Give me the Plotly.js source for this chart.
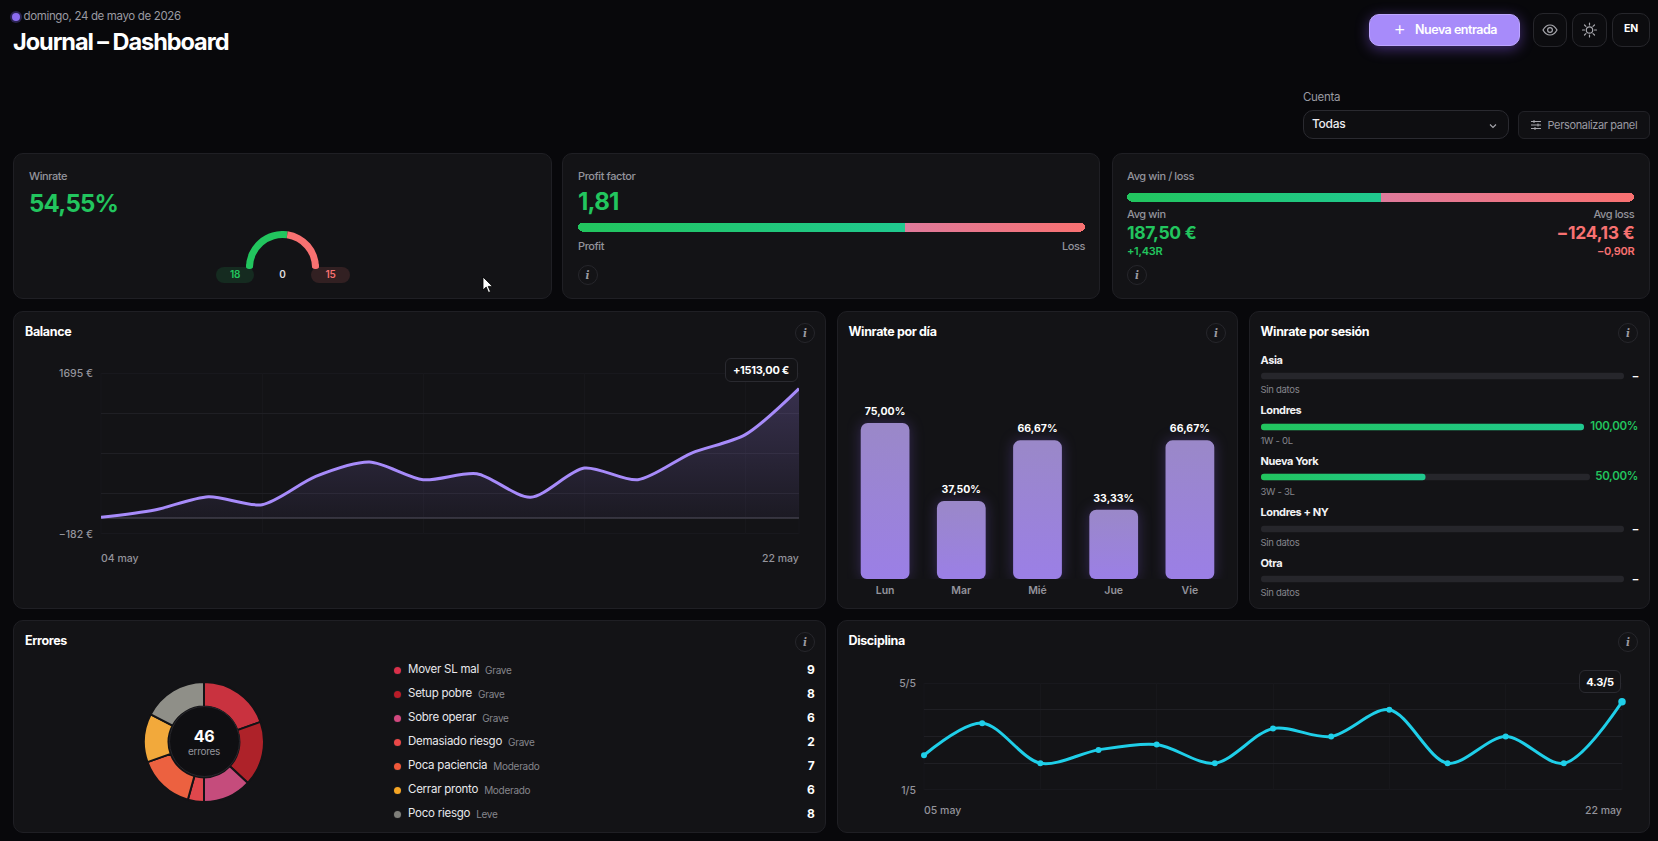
<!DOCTYPE html>
<html lang="es"><head><meta charset="utf-8"><title>Journal – Dashboard</title>
<script src="https://cdn.plot.ly/plotly-3.0.1.min.js"></script>
<style>
html,body{margin:0;padding:0;width:1658px;height:841px;overflow:hidden;background:#08080b;font-family:Inter,"Noto Sans",sans-serif;}
.a{position:absolute;}
.t{position:absolute;transform:translateY(-50%);white-space:nowrap;line-height:1;letter-spacing:-.3px;}
.r{transform:translate(-100%,-50%);}
.c{transform:translate(-50%,-50%);}
.card{position:absolute;box-sizing:border-box;background:#131316;border:1px solid #1f1f24;border-radius:10px;}
.ibtn{position:absolute;box-sizing:border-box;background:#0c0c0f;border:1px solid #26262b;border-radius:10px;}
.info{position:absolute;box-sizing:border-box;width:20px;height:20px;border:1px solid #26262b;border-radius:50%;transform:translate(-50%,-50%);color:#9a9aa0;font:italic 700 10.5px "DejaVu Serif",serif;display:flex;align-items:center;justify-content:center;}
.badge{position:absolute;box-sizing:border-box;background:#131316;border:1px solid #2a2a30;border-radius:6px;color:#fff;font-weight:700;font-size:11px;letter-spacing:-.3px;display:flex;align-items:center;justify-content:center;}
.plot{position:absolute;}
</style></head><body>
<div id="root"></div>
<script>
// ---- data ----
const winrateText="54,55%", wins=18, breakeven=0, losses=15;
const profitFactorText="1,81", profitShare=1.81, lossShare=1;
const avgWinShare=50, avgLossShare=50;
const balanceDates=["04 may","05 may","06 may","07 may","08 may","11 may","12 may","13 may","14 may","15 may","18 may","19 may","20 may","22 may"];
const balanceValues=[12,98,253,160,490,657,451,521,246,587,451,762,976,1513];
const balanceMin=-182, balanceMax=1695;
const dayNames=["Lun","Mar","Mié","Jue","Vie"];
const dayWinrate=[75,37.5,66.67,33.33,66.67];
const dayLabels=["75,00%","37,50%","66,67%","33,33%","66,67%"];
const sessionNames=["Asia","Londres","Nueva York","Londres + NY","Otra"];
const sessionValues=[null,100,50,null,null];
const sessionLabels=["–","100,00%","50,00%","–","–"];
const sessionDetail=["Sin datos","1W - 0L","3W - 3L","Sin datos","Sin datos"];
const errorNames=["Mover SL mal","Setup pobre","Sobre operar","Demasiado riesgo","Poca paciencia","Cerrar pronto","Poco riesgo"];
const errorLevels=["Grave","Grave","Grave","Grave","Moderado","Moderado","Leve"];
const errorCounts=[9,8,6,2,7,6,8];
const errorColors=["#c9323f","#ae2229","#c54c7c","#e0474c","#ec6140","#f2a93b","#8f8f88"];
const errorDots=["#d9304a","#b91c28","#d2487f","#ea4848","#f0583a","#f5a524","#7f7f7a"];
const discDates=["05 may","06 may","07 may","08 may","11 may","12 may","13 may","14 may","15 may","18 may","19 may","20 may","22 may"];
const discValues=[2.3,3.5,2,2.5,2.7,2,3.3,3,4,2,3,2,4.3];

// ---- dom helpers ----
const root=document.getElementById('root');
const GREY='#94949c', GREEN='#22c55e', RED='#f87171';
function T(x,y,s,size,color,weight,cls,extra){const e=document.createElement('div');e.className='t '+(cls||'');e.style.cssText=`left:${x}px;top:${y}px;font-size:${size}px;color:${color};font-weight:${weight||400};${extra||''}`;e.textContent=s;root.appendChild(e);return e;}
function box(cls,x,y,w,h,extra,html){const e=document.createElement('div');e.className=cls;e.style.cssText=`left:${x}px;top:${y}px;width:${w}px;height:${h}px;${extra||''}`;if(html)e.innerHTML=html;root.appendChild(e);return e;}
function card(x0,y0,x1,y1){box('card',x0,y0,x1-x0,y1-y0);}
function info(x,y){const e=document.createElement('div');e.className='info';e.style.left=x+'px';e.style.top=y+'px';e.textContent='i';root.appendChild(e);}
function plotDiv(x,y,w,h,extra){return box('plot',x,y,w,h,extra);}
const cfg={staticPlot:true,displayModeBar:false,responsive:false};
const FONT='Inter, "Noto Sans", sans-serif';
const baseLayout=(w,h,m)=>({width:w,height:h,margin:Object.assign({l:0,r:0,t:0,b:0,pad:0},m),paper_bgcolor:'rgba(0,0,0,0)',plot_bgcolor:'rgba(0,0,0,0)',showlegend:false,font:{family:FONT,color:GREY,size:11}});

// SVG post-processing using the bars' rendered geometry
function gradient(gd,id,stops,horizontal){
  const svg=gd.querySelector('.main-svg');let d=svg.querySelector('defs');
  const ns='http://www.w3.org/2000/svg';const g=document.createElementNS(ns,'linearGradient');
  g.setAttribute('id',id);g.setAttribute('x1','0');g.setAttribute('y1','0');g.setAttribute('x2',horizontal?'1':'0');g.setAttribute('y2',horizontal?'0':'1');
  stops.forEach((c,i)=>{const s=document.createElementNS(ns,'stop');s.setAttribute('offset',i/(stops.length-1));s.setAttribute('stop-color',c);g.appendChild(s);});
  d.appendChild(g);return `url(#${id})`;
}
function rounded(path,tl,tr,br,bl){
  const b=path.getBBox(),x=b.x,y=b.y,w=b.width,h=b.height;
  path.setAttribute('d',`M${x+tl},${y}H${x+w-tr}A${tr},${tr} 0 0 1 ${x+w},${y+tr}V${y+h-br}A${br},${br} 0 0 1 ${x+w-br},${y+h}H${x+bl}A${bl},${bl} 0 0 1 ${x},${y+h-bl}V${y+tl}A${tl},${tl} 0 0 1 ${x+tl},${y}Z`);
}

// ---- header ----
box('a',11.5,12.500,8,8,'border-radius:50%;background:#8b6cf0;box-shadow:0 0 0 2px #2a2350;');
T(23.5,17,"domingo, 24 de mayo de 2026",11.5,'#9a9aa2',400,'','letter-spacing:-.35px;');
T(13,41.5,"Journal – Dashboard",23.5,'#fff',700,'', 'letter-spacing:-1.05px;');
box('a',1369,14,151,32,'box-sizing:border-box;border-radius:10px;background:#a78bfa;border:1px solid #bda6ff;box-shadow:0 3px 14px rgba(139,92,246,.45);');
T(1399.5,28,"+",19,'#fff',300,'c');
T(1456,30,"Nueva entrada",12.5,'#fff',600,'c','letter-spacing:-.5px;');
box('ibtn',1533,13,34,34,'',`<svg width="32" height="32" viewBox="0 0 32 32" fill="none" stroke="#a8a8ae" stroke-width="1.2"><path d="M9 16c2-3.6 4.5-5 7-5s5 1.4 7 5c-2 3.6-4.500 5-7 5s-5-1.400-7-5z"/><circle cx="16" cy="16" r="2.400"/></svg>`);
box('ibtn',1572,13,35,34,'',`<svg width="33" height="32" viewBox="0 0 33 32" fill="none" stroke="#a8a8ae" stroke-width="1.2" stroke-linecap="round"><circle cx="16.500" cy="16" r="3.200"/><path d="M16.500 9v2M16.500 21v2M9.500 16h2M21.500 16h2M11.500 11l1.400 1.400M20 19.600l1.500 1.400M11.500 21l1.400-1.400M20 12.400l1.500-1.400"/></svg>`);
box('ibtn',1612,13,38,34);
T(1631,29,"EN",10.5,'#fff',700,'c');
T(1303,97.500,"Cuenta",11.5,'#9a9aa2',400);
box('ibtn',1303,110,205.500,29,'background:#0e0e11;border-color:#2a2a30;');
T(1312,124,"Todas",12,'#ececf0',500);
box('a',1488,115,10,10,'',`<svg width="10" height="10" viewBox="0 0 10 10" fill="none" stroke="#a8a8ae" stroke-width="1.100"><path d="M2 3.500l3 3 3-3"/></svg>`);
box('ibtn',1518,111,132,28,'background:#101013;border-color:#222227;border-radius:6px;');
box('a',1530,115,12,12,'',`<svg width="12" height="12" viewBox="0 0 12 12" fill="none" stroke="#a8a8ae" stroke-width="1"><path d="M1 2.500h10M1 6h10M1 9.500h10M4 1v3M8 4.500v3M5 8v3"/></svg>`);
T(1547.5,125,"Personalizar panel",11,'#9a9aa2',400,'','letter-spacing:-.35px;');

// ---- row 1 ----
card(13,153,552,299); card(562,153,1100,299); card(1112,153,1650,299);
const LBL=11, LS='letter-spacing:-.4px;';
T(29,176,"Winrate",LBL,GREY,500,'',LS);
T(29,204,winrateText,24,GREEN,700,'','letter-spacing:-.75px;');
box('a',216,267,38,16,'border-radius:8px;background:#152b20;');
box('a',311,267,39,16,'border-radius:8px;background:#322022;');
T(235,274,String(wins),10,GREEN,600,'c');
T(282.5,274,String(breakeven),10,'#ddd',600,'c');
T(330.5,274,String(losses),10,RED,600,'c');
box('a',246,262.6,6.8,6.8,'border-radius:50%;background:'+GREEN);
box('a',312.2,262.6,6.8,6.8,'border-radius:50%;background:'+RED);
const gaugeDiv=plotDiv(246,230.7,73,73);
T(578,176,"Profit factor",LBL,GREY,500,'',LS);
T(578,202,profitFactorText,24,GREEN,700,'','letter-spacing:-.75px;');
const pfDiv=plotDiv(578,220.5,507,12);
T(578,246,"Profit",LBL,GREY,500,'',LS);
T(1085,246,"Loss",LBL,GREY,500,'r',LS);
info(587.5,275);
T(1127,176,"Avg win / loss",LBL,GREY,500,'',LS);
const awDiv=plotDiv(1127,190.5,507.4,12);
T(1127,213.5,"Avg win",LBL,GREY,500,'',LS);
T(1634.4,213.5,"Avg loss",LBL,GREY,500,'r',LS);
T(1127,233,"187,50 €",17.5,GREEN,700,'','letter-spacing:-.3px;');
T(1634.4,233,"−124,13 €",17.5,RED,700,'r','letter-spacing:-.3px;');
T(1127,251,"+1,43R",11,GREEN,600);
T(1634.4,251,"−0,90R",11,RED,600,'r');
info(1137,275);

// ---- row 2 ----
card(13,311,826,609); card(837,311,1238,609); card(1249,311,1650,609);
T(25,332,"Balance",12.5,'#fff',700,'','letter-spacing:-.35px;'); info(805,332.5);
T(848.5,332,"Winrate por día",12.5,'#fff',700,'','letter-spacing:-.35px;'); info(1216,332.5);
T(1260.5,332,"Winrate por sesión",12.5,'#fff',700,'','letter-spacing:-.35px;'); info(1628,332.5);
const balDiv=plotDiv(13,311,813,298);
const dayDiv=plotDiv(837,311,401,298);
box('badge',724.5,358,73,24,'',"+1513,00 €").style.zIndex=3;
const sessionRows=[[360,373,1624,390],[410,424,1583.6,441],[461,474,1589.5,492],[512,525.5,1624,543],[563,576,1624,593]];
const sessionDivs=sessionNames.map((n,i)=>{
  const [yn,yt,xe,ys]=sessionRows[i];
  T(1260.5,yn,n,11,'#f2f2f4',700,'','letter-spacing:-.4px;');
  T(1260.5,ys,sessionDetail[i],9.5,'#85858c',400);
  T(1638,yt+3,sessionLabels[i],sessionValues[i]==null?11:11.5,sessionValues[i]==null?'#fff':GREEN,sessionValues[i]==null?700:600,'r');
  return plotDiv(1261,yt-2.75,xe-1261,12);
});

// ---- row 3 ----
card(13,620,826,833); card(837,620,1650,833);
T(25,641,"Errores",12.5,'#fff',700,'','letter-spacing:-.35px;'); info(805,642);
T(848.5,641,"Disciplina",12.5,'#fff',700,'','letter-spacing:-.35px;'); info(1628,642);
const donutDiv=plotDiv(144,681.5,120,120);
box('a',168.5,705.5,71,71,'box-sizing:border-box;border-radius:50%;background:#0f0f12;border:1px solid #26262b;');
T(204,736,String(errorCounts.reduce((a,b)=>a+b,0)),16,'#fff',700,'c');
T(204,751,"errores",10,'#94949c',400,'c');
errorNames.forEach((n,i)=>{
  const y=670+24*i;
  box('a',393.5,y-3.5,7,7,`border-radius:50%;background:${errorDots[i]};box-shadow:0 0 0 1px rgba(255,255,255,.03);`);
  const e=T(408,y,n,11.5,'#e8e8ec',400,'','letter-spacing:-.25px;');
  const w=e.getBoundingClientRect().width;
  T(408+w+6,y-0.5,errorLevels[i],10,'#85858c',400);
  T(814.5,y,String(errorCounts[i]),12,'#fff',700,'r');
});
const discDiv=plotDiv(837,620,813,213);
box('badge',1579,670,42,23,'',"4.3/5").style.zIndex=3;
// mouse cursor seen in the capture
box('a',482,276,14,18,'',`<svg width="14" height="18" viewBox="0 0 14 18"><path d="M1 1v13l3.200-3 2.300 5.500 2-.9-2.300-5.200H10.500z" fill="#fff" stroke="#000" stroke-width=".8"/></svg>`);

// ---- charts ----
const pieCommon={type:'pie',sort:false,direction:'clockwise',textinfo:'none',hoverinfo:'skip'};
Plotly.newPlot(gaugeDiv,[Object.assign({},pieCommon,{values:[wins,losses,wins+losses],rotation:-90,hole:.81,marker:{colors:[GREEN,RED,'rgba(0,0,0,0)'],line:{width:0}}})],baseLayout(73,73),cfg);

function splitBar(div,a,b,ids){
  const w=parseFloat(div.style.width),h=parseFloat(div.style.height);
  const tr=(v,c)=>({type:'bar',orientation:'h',x:[v],y:['s'],marker:{color:c,line:{width:0}},hoverinfo:'skip',width:.75});
  const lay=baseLayout(w,h);lay.barmode='stack';lay.xaxis={visible:false,range:[0,a+b],fixedrange:true};lay.yaxis={visible:false,type:'category',range:[-.5,.5]};
  return Plotly.newPlot(div,[tr(a,GREEN),tr(b,RED)],lay,cfg).then(gd=>{
    const ps=gd.querySelectorAll('.bars .point path');
    ps[0].style.fill=gradient(gd,ids+'a',['#22c55e','#20c98f'],true);ps[1].style.fill=gradient(gd,ids+'b',['#df7a9b','#f87171'],true);
    rounded(ps[0],4.5,0,0,4.5);rounded(ps[1],0,4.5,4.5,0);
  });
}
splitBar(pfDiv,profitShare,lossShare,'pf');
splitBar(awDiv,avgWinShare,avgLossShare,'aw');

const gridH='#1f1f24', gridV='#17171b';
const edgeLabel=(text,x,left,yshift)=>({text,x,xref:'x',y:0,yref:'paper',xanchor:left?'left':'right',yanchor:'middle',yshift,xshift:left?-1:1,showarrow:false,borderpad:0,font:{size:10.5,color:'#94949c',weight:500}});
// Plotly omits grid lines exactly on the range ends, so the frame is added as shapes
const frame=(lo,hi)=>[lo,hi].map(v=>({type:'line',layer:'below',xref:'paper',x0:0,x1:1,yref:'y',y0:v,y1:v,line:{color:gridH,width:1}})).concat([0,1].map(v=>({type:'line',layer:'below',xref:'paper',x0:v,x1:v,yref:'paper',y0:0,y1:1,line:{color:gridV,width:1}})));
// balance
{
  const step=(balanceMax-balanceMin)/4, tv=[0,1,2,3,4].map(i=>balanceMin+step*i);
  const xt=balanceDates.filter((d,i)=>i%3===0||i===balanceDates.length-1);
  const lay=baseLayout(813,298,{l:88,r:27,t:62,b:75});
  lay.xaxis={type:'category',range:[0,balanceDates.length-1],tickmode:'array',tickvals:xt,ticktext:xt.map(()=>''),showgrid:true,gridcolor:gridV,gridwidth:1,zeroline:false,showline:false,ticks:''};
  lay.yaxis={range:[balanceMin,balanceMax],tickmode:'array',tickvals:tv,ticktext:["−182 €","","","","1695 €"],showgrid:true,gridcolor:gridH,zeroline:true,zerolinecolor:'#303036',zerolinewidth:2,showline:false,ticks:'',tickfont:{size:10.5,color:'#94949c',weight:500},ticklabelstandoff:7};
  lay.shapes=frame(balanceMin,balanceMax);
  lay.annotations=[edgeLabel(balanceDates[0],balanceDates[0],true,-24),edgeLabel(balanceDates[balanceDates.length-1],balanceDates[balanceDates.length-1],false,-24)];
  Plotly.newPlot(balDiv,[{type:'scatter',mode:'lines',x:balanceDates,y:balanceValues,line:{color:'#a78bfa',width:3,shape:'spline',smoothing:.8},fill:'tozeroy',fillgradient:{type:'vertical',colorscale:[[0,'rgba(160,132,236,.06)'],[1,'rgba(160,132,236,.26)']]},hoverinfo:'skip'}],lay,cfg);
}
// days
{
  const lay=baseLayout(401,298,{l:10,r:10,t:60,b:30});
  lay.bargap=.36;
  lay.xaxis={type:'category',showgrid:false,zeroline:false,showline:false,ticks:'',tickfont:{size:10.5,color:'#94949c',weight:600},ticklabelstandoff:3,automargin:false};
  lay.yaxis={range:[0,100],visible:false};
  Plotly.newPlot(dayDiv,[{type:'bar',x:dayNames,y:dayWinrate,text:dayLabels,textposition:'outside',cliponaxis:false,textfont:{size:10.5,color:'#fff',weight:700},marker:{color:'#9b80e4',line:{width:0}},hoverinfo:'skip'}],lay,cfg).then(gd=>{
    const g=gradient(gd,'dayg',['#9a88c8','#9b7fe6']);
    gd.querySelectorAll('.bars .point path').forEach(p=>{p.style.fill=g;p.style.filter='drop-shadow(0 0 7px rgba(139,100,246,.28))';rounded(p,7,7,6,6);});
    gd.querySelectorAll('.bars .bartext').forEach(t=>{t.setAttribute('transform',(t.getAttribute('transform')||'')+' translate(0,-2)');});
  });
}
// sessions
sessionDivs.forEach((div,i)=>{
  const w=parseFloat(div.style.width),h=parseFloat(div.style.height);
  const tr=(v,c)=>({type:'bar',orientation:'h',x:[v],y:['s'],width:.54,marker:{color:c,line:{width:0}},hoverinfo:'skip'});
  const lay=baseLayout(w,h);lay.barmode='overlay';lay.xaxis={visible:false,range:[0,100]};lay.yaxis={visible:false,type:'category',range:[-.5,.5]};
  const traces=[tr(100,'#26262b')];if(sessionValues[i]!=null)traces.push(tr(sessionValues[i],'#22c58a'));
  Plotly.newPlot(div,traces,lay,cfg).then(gd=>{
    gd.querySelectorAll('.bars .point path').forEach((p,k)=>{
      rounded(p,3,3,3,3);
      if(k===1)p.style.fill=gradient(gd,'sg'+i,['#22c55e','#20c98f'],true);
    });
  });
});
// donut
Plotly.newPlot(donutDiv,[Object.assign({},pieCommon,{values:errorCounts,labels:errorNames,rotation:0,hole:.59,marker:{colors:errorColors,line:{color:'#131316',width:2}}})],baseLayout(120,120),cfg);
// discipline
{
  const tv=[1,2,3,4,5];
  const xt=discDates.filter((d,i)=>i%2===0);
  const n=discValues.length;
  const lay=baseLayout(813,213,{l:87,r:28,t:63,b:43});
  lay.xaxis={type:'category',range:[0,n-1],tickmode:'array',tickvals:xt,ticktext:xt.map(()=>''),showgrid:true,gridcolor:gridV,zeroline:false,showline:false,ticks:''};
  lay.yaxis={range:[1,5],tickmode:'array',tickvals:tv,ticktext:["1/5","","","","5/5"],showgrid:true,gridcolor:gridH,zeroline:false,showline:false,ticks:'',tickfont:{size:10.5,color:'#94949c',weight:500},ticklabelstandoff:7};
  lay.shapes=frame(1,5);
  lay.annotations=[edgeLabel(discDates[0],discDates[0],true,-20),edgeLabel(discDates[n-1],discDates[n-1],false,-20)];
  Plotly.newPlot(discDiv,[{type:'scatter',mode:'lines+markers',x:discDates,y:discValues,cliponaxis:false,line:{color:'#1fcfe9',width:3,shape:'spline',smoothing:.9},marker:{color:'#1fcfe9',opacity:1,line:{width:0},size:discValues.map((v,i)=>i===n-1?7.5:6)},hoverinfo:'skip'}],lay,cfg);
}
</script>
</body></html>
